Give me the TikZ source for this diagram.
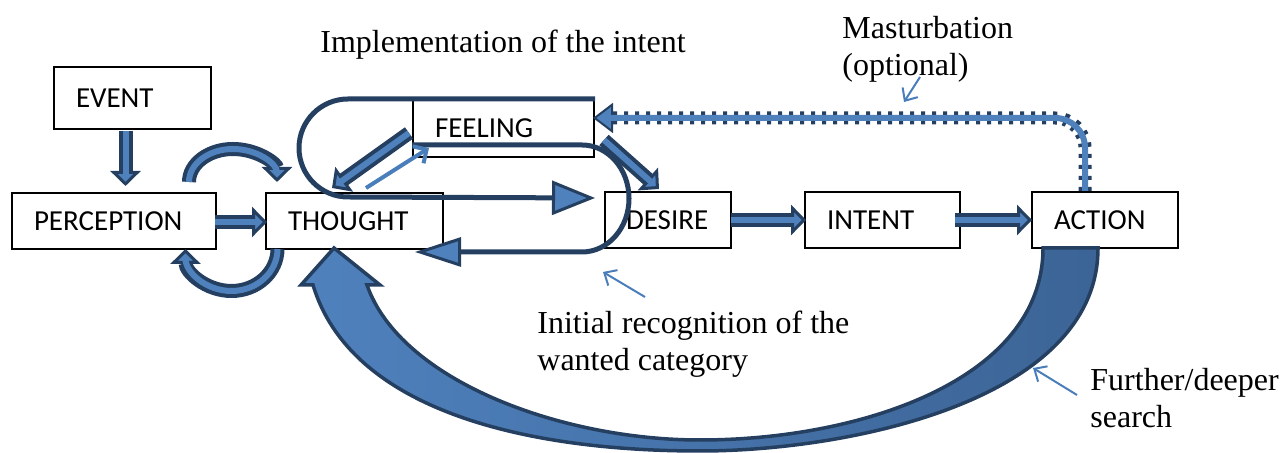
\documentclass[tikz,border=0pt]{standalone}
\usepackage{fontspec}
\setmainfont{Liberation Serif}
\newfontfamily\boxfont{Carlito}
\usetikzlibrary{arrows.meta}

\definecolor{darkB}{HTML}{243F60}
\definecolor{blueM}{HTML}{4F81BD}
\definecolor{blueS}{HTML}{3C6496}
\definecolor{blueL}{HTML}{4A7EBB}

\tikzset{
  box/.style={draw, line width=1pt, minimum height=28pt, inner xsep=11pt, inner ysep=0pt,
    align=left, font=\boxfont\fontsize{14.5}{17}\selectfont},
  lbl/.style={inner sep=0pt, align=left, font=\fontsize{16}{18.5}\selectfont},
  blockarr/.style={draw=darkB, line width=7pt,
    -{Triangle[length=7.5pt, width=15pt, line width=1.5pt, fill=blueM]},
    postaction={draw=blueM, line width=3pt, -, shorten >=5pt}},
  cycleline/.style={draw=darkB, line width=2.5pt},
  dotarr/.style={draw=darkB, line width=6.5pt, dash pattern=on 2pt off 3.5pt, rounded corners=15pt,
    -{Triangle[length=10pt, width=15pt, line width=1pt, fill=blueM]},
    postaction={draw=blueM, line width=3pt, solid, -, shorten >=7pt}},
  thinarr/.style={draw=blueL, line width=1pt, -{Straight Barb[length=5pt, width=9pt]}},
}

\begin{document}
\begin{tikzpicture}[x=0.5pt, y=0.5pt]
\useasboundingbox (0,0) rectangle (1283,453);

% boxes
\node[box, text width=56.5pt, minimum height=31pt] (event) at (132.5,355) {EVENT};
\node[box, text width=80pt] (perception) at (114,232) {PERCEPTION};
\node[box, text width=66.5pt] (thought) at (354.5,232) {THOUGHT};
\node[box, text width=68.5pt, minimum height=28.5pt] (feeling) at (503.5,324.5) {FEELING};
\node[box, text width=42pt, inner xsep=10.5pt] (desire) at (668,233) {DESIRE};
\node[box, text width=55.5pt] (intent) at (882.5,233) {INTENT};
\node[box, text width=51pt] (action) at (1105,233) {ACTION};

% loop round feeling and thought
\coordinate (tipA) at (595,255);
\coordinate (tipB) at (415,201);
\draw[cycleline, -{Triangle[length=21.5pt, width=17pt, line width=1.5pt, fill=blueM]}]
  (feeling.north east) -- ++(-247,0) arc[start angle=90, end angle=270, radius=49] -- (tipA);
\draw[cycleline, -{Triangle[length=23pt, width=14.5pt, line width=1.5pt, fill=blueM]}]
  ([yshift=-8.25pt]feeling.west) -- ++(170,0) arc[start angle=90, end angle=-90, x radius=47, y radius=53.5] -- (tipB);

% big return arrow from action
\path[draw=darkB, line width=1.75pt, left color=blueM, right color=blueS]
  ([xshift=-31pt,yshift=0.5pt]action.south) -- ([xshift=-3.5pt,yshift=0.5pt]action.south)
  .. controls (1098,53) and (850,2) .. (700,2)
  .. controls (520,2) and (350,45) .. (313,168)
  -- (301,168) -- ([shift={(-10.25pt,1pt)}]thought.south) -- (380,168) -- (367,168)
  .. controls (400,73) and (560,13) .. (700,13)
  .. controls (860,13) and (1043,73) .. cycle;

% straight block arrows
\draw[blockarr] ([shift={(-3.5pt,-0.75pt)}]event.south) -- ([shift={(5.75pt,3pt)}]perception.north);
\draw[blockarr] ([shift={(-1pt,-0.5pt)}]perception.east) -- ([shift={(1pt,-0.5pt)}]thought.west);
\draw[blockarr] ([xshift=-0.5pt]desire.east) -- ([xshift=1pt]intent.west);
\draw[blockarr] ([xshift=-3pt]intent.east) -- ([xshift=0.5pt]action.west);
\draw[blockarr] ([shift={(4.5pt,-5.75pt)}]feeling.east) -- ([shift={(27.5pt,1pt)}]desire.north west);
\draw[blockarr] ([shift={(-1.5pt,-2.25pt)}]feeling.west) -- ([shift={(33.5pt,2pt)}]thought.north west);

% curved block arrows between perception and thought
\draw[blockarr] ([shift={(37.5pt,5pt)}]perception.north) arc[start angle=180, end angle=0, x radius=44, y radius=33];
\draw[blockarr] ([shift={(-38.5pt,0.5pt)}]thought.south) arc[start angle=0, end angle=-180, x radius=46, y radius=42];

% thin arrow thought to feeling
\draw[draw=blueL, line width=2pt, -{Straight Barb[length=5pt, width=10pt]}]
  ([shift={(5.75pt,2pt)}]thought.north) -- ([shift={(8.5pt,5pt)}]feeling.south west);

% dotted arrow action to feeling
\draw[dotarr] ([xshift=-10pt]action.north) |- ([shift={(-1pt,5.25pt)}]feeling.east);

% labels
\node[lbl, anchor=base west] (implabel) at (320,400) {Implementation of the intent};
\node[lbl, anchor=north west] (masturb) at (842,437) {Masturbation\\(optional)};
\node[lbl, anchor=north west] (initlabel) at (537,142) {Initial recognition of the\\wanted category};
\node[lbl, anchor=north west] (furtherlabel) at (1090,85) {Further/deeper\\search};

% pointers from labels
\coordinate (mtip) at (904,351);
\coordinate (itip) at (603,181);
\coordinate (ftip) at (1033,85);
\draw[thinarr] ([shift={(39pt,-30.5pt)}]masturb.north west) -- (mtip);
\draw[thinarr] ([shift={(54pt,7pt)}]initlabel.north west) -- (itip);
\draw[thinarr] ([shift={(-6.5pt,-13.5pt)}]furtherlabel.north west) -- (ftip);

\end{tikzpicture}
\end{document}
